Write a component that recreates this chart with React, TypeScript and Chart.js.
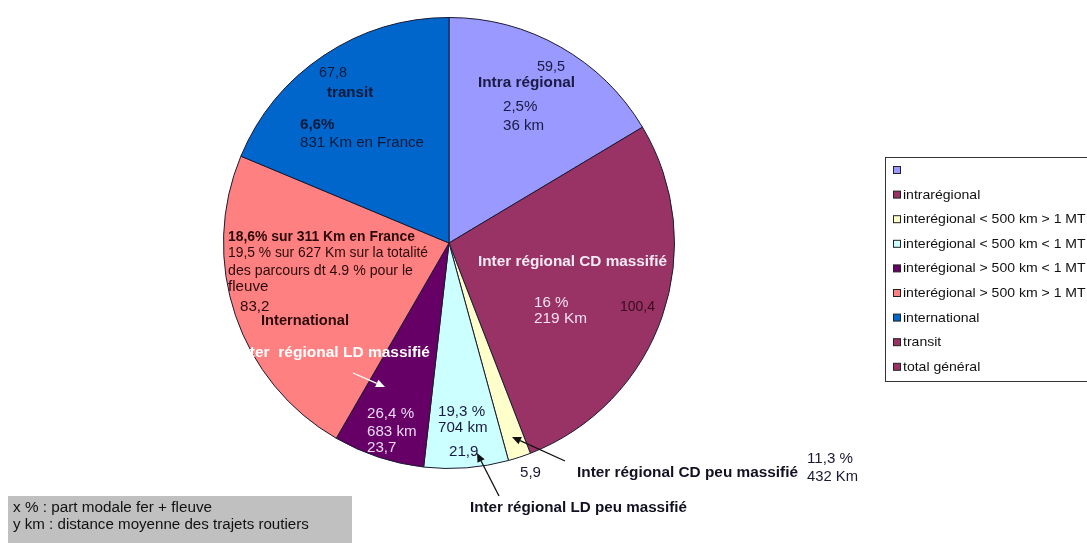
import React, { useEffect, useRef } from "react";
import { Chart, registerables } from "chart.js";
Chart.register(...registerables);

// ---- Data ----
const categories = [
  "",
  "intrarégional",
  "interégional < 500 km > 1 MT",
  "interégional < 500 km < 1 MT",
  "interégional > 500 km < 1 MT",
  "interégional > 500 km > 1 MT",
  "international",
  "transit",
  "total général",
];
const values = [59.5, 100.4, 5.9, 21.9, 23.7, 83.2, 67.8, 0, 0];
const colors = ["#9999FF", "#993366", "#FFFFCC", "#CCFFFF", "#660066", "#FF8080", "#0066CC", "#993366", "#993366"];

const noteLines = ["x % : part modale fer + fleuve", "y km : distance moyenne des trajets routiers"];

// annotation texts: [text, left x, right x (target width), middle y, bold, color]
type Ann = [string, number, number, number, boolean, string];
const annotations: Ann[] = [
  ["59,5", 537, 565, 67, false, "#1a1a44"],
  ["Intra régional", 478, 575, 83, true, "#1a1a44"],
  ["2,5%", 503, 0, 107, false, "#1a1a44"],
  ["36 km", 503, 0, 126, false, "#1a1a44"],
  ["67,8", 319, 347, 73, false, "#0a1a3a"],
  ["transit", 327, 0, 93, true, "#0a1a3a"],
  ["6,6%", 300, 0, 125, true, "#0a1a3a"],
  ["831 Km en France", 300, 424, 143, false, "#0a1a3a"],
  ["18,6% sur 311 Km en France", 228, 415, 237, true, "#2a0a0a"],
  ["19,5 % sur 627 Km sur la totalité", 228, 428, 253, false, "#2a0a0a"],
  ["des parcours dt 4.9 % pour le", 228, 413, 271, false, "#2a0a0a"],
  ["fleuve", 228, 0, 287, false, "#2a0a0a"],
  ["83,2", 240, 0, 307, false, "#2a0a0a"],
  ["International", 261, 349, 321, true, "#2a0a0a"],
  ["Inter  régional LD massifié", 236, 430, 353, true, "#ffffff"],
  ["26,4 %", 367, 0, 414, false, "#e8d8f0"],
  ["683 km", 367, 0, 432, false, "#e8d8f0"],
  ["23,7", 367, 0, 448, false, "#e8d8f0"],
  ["19,3 %", 438, 0, 412, false, "#1a1a44"],
  ["704 km", 438, 0, 428, false, "#1a1a44"],
  ["21,9", 449, 0, 452, false, "#1a1a44"],
  ["5,9", 520, 0, 473, false, "#1a1a33"],
  ["Inter régional CD peu massifié", 577, 798, 473, true, "#111122"],
  ["11,3 %", 807, 0, 459, false, "#1a1a33"],
  ["432 Km", 807, 858, 477, false, "#1a1a33"],
  ["Inter régional LD peu massifié", 470, 687, 508, true, "#111122"],
  ["Inter régional CD massifié", 478, 667, 262, true, "#f4eaf4"],
  ["16 %", 534, 0, 303, false, "#f0e0f0"],
  ["219 Km", 534, 587, 319, false, "#f0e0f0"],
  ["100,4", 620, 655, 307, false, "#3a0a1a"],
];

// arrows: [x1, y1, x2 (head), y2 (head), color]
const arrows: [number, number, number, number, string][] = [
  [353, 373, 385, 387, "#ffffff"],
  [499, 496, 477, 453, "#111111"],
  [565, 461, 512, 437, "#111111"],
];

const FONT = "'Liberation Sans', Arial, sans-serif";

function drawText(ctx: CanvasRenderingContext2D, t: string, x: number, x2: number, y: number, bold: boolean, color: string, size = 14) {
  ctx.save();
  ctx.font = `${bold ? "bold " : ""}${size}px ${FONT}`;
  ctx.fillStyle = color;
  ctx.textBaseline = "middle";
  ctx.textAlign = "left";
  const w = ctx.measureText(t).width;
  const sx = x2 > 0 ? (x2 - x) / w : 1.08;
  ctx.translate(x, y);
  ctx.scale(sx, 1);
  ctx.fillText(t, 0, 0);
  ctx.restore();
}

function drawArrow(ctx: CanvasRenderingContext2D, x1: number, y1: number, x2: number, y2: number, color: string) {
  ctx.save();
  ctx.strokeStyle = color;
  ctx.fillStyle = color;
  ctx.lineWidth = 1.3;
  const a = Math.atan2(y2 - y1, x2 - x1);
  const L = 9, W = 4;
  const bx = x2 - L * Math.cos(a), by = y2 - L * Math.sin(a);
  ctx.beginPath();
  ctx.moveTo(x1, y1);
  ctx.lineTo(bx, by);
  ctx.stroke();
  ctx.beginPath();
  ctx.moveTo(x2, y2);
  ctx.lineTo(bx + W * Math.sin(a), by - W * Math.cos(a));
  ctx.lineTo(bx - W * Math.sin(a), by + W * Math.cos(a));
  ctx.closePath();
  ctx.fill();
  ctx.restore();
}

const overlayPlugin = {
  id: "overlay",
  afterDraw(chart: any) {
    const ctx: CanvasRenderingContext2D = chart.ctx;
    // annotations
    annotations.forEach(([t, x, x2, y, b, c]) => drawText(ctx, t, x, x2, y, b, c));
    arrows.forEach(([x1, y1, x2, y2, c]) => drawArrow(ctx, x1, y1, x2, y2, c));

    // legend box
    ctx.save();
    ctx.fillStyle = "#ffffff";
    ctx.strokeStyle = "#333333";
    ctx.lineWidth = 1;
    ctx.fillRect(885.5, 157.5, 230, 224);
    ctx.strokeRect(885.5, 157.5, 230, 224);
    const ds = chart.data.datasets[0];
    chart.data.labels.forEach((lab: string, i: number) => {
      const y = 170 + i * 24.6;
      ctx.fillStyle = ds.backgroundColor[i];
      ctx.strokeStyle = "#222222";
      ctx.fillRect(893.5, y - 3.5, 7, 7);
      ctx.strokeRect(893.5, y - 3.5, 7, 7);
      if (lab) drawText(ctx, lab, 903, 0, y + 0.5, false, "#111111", 13);
    });
    ctx.restore();

    // note box
    ctx.save();
    ctx.fillStyle = "#c0c0c0";
    ctx.fillRect(8, 496, 344, 47);
    ctx.restore();
    drawText(ctx, noteLines[0], 13, 212, 508, false, "#111111", 14);
    drawText(ctx, noteLines[1], 13, 0, 525, false, "#111111", 14);
  },
};

export default function App() {
  const ref = useRef<HTMLCanvasElement>(null);
  useEffect(() => {
    const chart = new Chart(ref.current!, {
      type: "pie",
      data: {
        labels: categories,
        datasets: [
          {
            data: values,
            backgroundColor: colors,
            borderColor: "#1a1a33",
            borderWidth: 1,
          },
        ],
      },
      options: {
        animation: false,
        responsive: false,
        layout: { padding: { left: 223, right: 412, top: 17, bottom: 74 } },
        plugins: {
          legend: { display: false },
          tooltip: { enabled: false },
        },
      },
      plugins: [overlayPlugin],
    });
    return () => chart.destroy();
  }, []);
  return (
    <div style={{ position: "fixed", left: 0, top: 0, width: 1087, height: 543, background: "#fff", overflow: "hidden" }}>
      <canvas ref={ref} width={1087} height={543} style={{ width: 1087, height: 543, display: "block" }} />
    </div>
  );
}
